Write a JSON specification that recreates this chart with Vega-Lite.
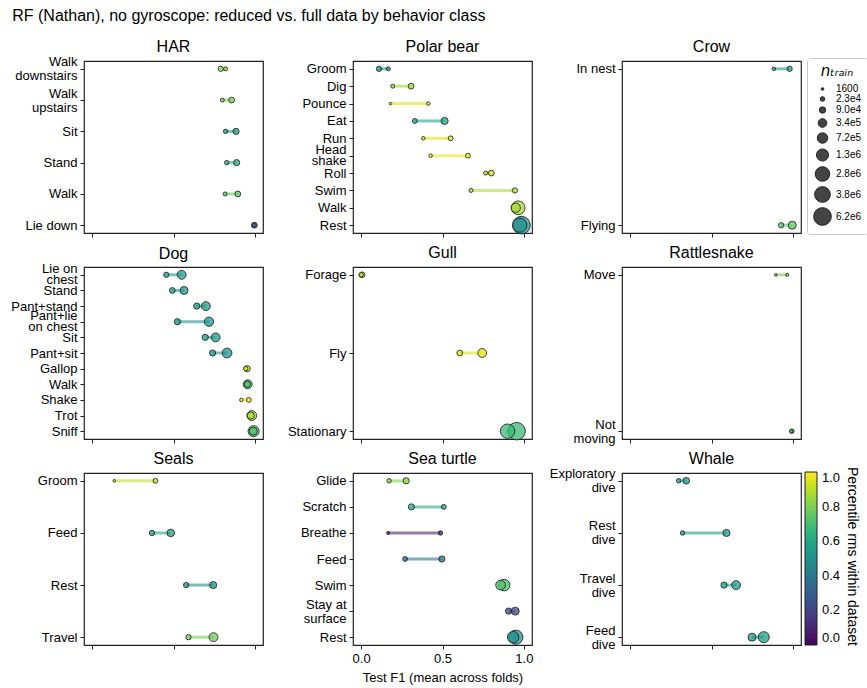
{
  "$schema": "https://vega.github.io/schema/vega-lite/v6.json",
  "background": "white",
  "padding": {"left": 10, "top": 8, "right": 5, "bottom": 5},
  "title": {"text": "RF (Nathan), no gyroscope: reduced vs. full data by behavior class", "anchor": "start", "fontSize": 16, "fontWeight": "normal", "font": "Liberation Sans", "color": "#000", "offset": 14, "dx": 2},
  "data": {"values": [
    {"ds": "HAR", "cls": "Walk\ndownstairs", "r": 0.82, "f": 0.79, "nr": 12300, "nf": 44000, "pct": 0.82},
    {"ds": "HAR", "cls": "Walk\nupstairs", "r": 0.80, "f": 0.857, "nr": 12300, "nf": 62000, "pct": 0.80},
    {"ds": "HAR", "cls": "Sit", "r": 0.82, "f": 0.884, "nr": 19700, "nf": 84900, "pct": 0.55},
    {"ds": "HAR", "cls": "Stand", "r": 0.827, "f": 0.888, "nr": 19700, "nf": 84900, "pct": 0.62},
    {"ds": "HAR", "cls": "Walk", "r": 0.817, "f": 0.895, "nr": 12300, "nf": 62000, "pct": 0.75},
    {"ds": "HAR", "cls": "Lie down", "r": 0.995, "f": 0.997, "nr": 19700, "nf": 62000, "pct": 0.32},
    {"ds": "Polar bear", "cls": "Groom", "r": 0.167, "f": 0.11, "nr": 12300, "nf": 44000, "pct": 0.5},
    {"ds": "Polar bear", "cls": "Dig", "r": 0.194, "f": 0.307, "nr": 12300, "nf": 62000, "pct": 0.85},
    {"ds": "Polar bear", "cls": "Pounce", "r": 0.18, "f": 0.413, "nr": 1637, "nf": 7100, "pct": 0.95},
    {"ds": "Polar bear", "cls": "Eat", "r": 0.33, "f": 0.513, "nr": 30100, "nf": 149000, "pct": 0.6},
    {"ds": "Polar bear", "cls": "Run", "r": 0.382, "f": 0.55, "nr": 7100, "nf": 30100, "pct": 0.95},
    {"ds": "Polar bear", "cls": "Head\nshake", "r": 0.427, "f": 0.656, "nr": 7100, "nf": 30100, "pct": 0.97},
    {"ds": "Polar bear", "cls": "Roll", "r": 0.765, "f": 0.80, "nr": 12300, "nf": 62000, "pct": 0.92},
    {"ds": "Polar bear", "cls": "Swim", "r": 0.675, "f": 0.945, "nr": 12300, "nf": 44000, "pct": 0.88},
    {"ds": "Polar bear", "cls": "Walk", "r": 0.95, "f": 0.965, "nr": 456000, "nf": 2200000, "pct": 0.87},
    {"ds": "Polar bear", "cls": "Rest", "r": 0.975, "f": 0.985, "nr": 2500000, "nf": 6200000, "pct": 0.5},
    {"ds": "Crow", "cls": "In nest", "r": 0.883, "f": 0.98, "nr": 7100, "nf": 44000, "pct": 0.55},
    {"ds": "Crow", "cls": "Flying", "r": 0.928, "f": 0.996, "nr": 44000, "nf": 242000, "pct": 0.75},
    {"ds": "Dog", "cls": "Lie on\nchest", "r": 0.456, "f": 0.55, "nr": 44000, "nf": 373000, "pct": 0.55},
    {"ds": "Dog", "cls": "Stand", "r": 0.493, "f": 0.565, "nr": 62000, "nf": 242000, "pct": 0.55},
    {"ds": "Dog", "cls": "Pant+stand", "r": 0.643, "f": 0.699, "nr": 84900, "nf": 373000, "pct": 0.55},
    {"ds": "Dog", "cls": "Pant+lie\non chest", "r": 0.524, "f": 0.718, "nr": 84900, "nf": 456000, "pct": 0.52},
    {"ds": "Dog", "cls": "Sit", "r": 0.695, "f": 0.759, "nr": 84900, "nf": 373000, "pct": 0.55},
    {"ds": "Dog", "cls": "Pant+sit", "r": 0.74, "f": 0.829, "nr": 84900, "nf": 551000, "pct": 0.5},
    {"ds": "Dog", "cls": "Gallop", "r": 0.944, "f": 0.953, "nr": 19700, "nf": 84900, "pct": 0.95},
    {"ds": "Dog", "cls": "Walk", "r": 0.954, "f": 0.956, "nr": 84900, "nf": 373000, "pct": 0.72},
    {"ds": "Dog", "cls": "Shake", "r": 0.917, "f": 0.963, "nr": 7100, "nf": 30100, "pct": 0.97},
    {"ds": "Dog", "cls": "Trot", "r": 0.975, "f": 0.981, "nr": 149000, "nf": 551000, "pct": 0.88},
    {"ds": "Dog", "cls": "Sniff", "r": 0.99, "f": 0.992, "nr": 242000, "nf": 928000, "pct": 0.72},
    {"ds": "Gull", "cls": "Forage", "r": 0.0, "f": 0.005, "nr": 19700, "nf": 62000, "pct": 0.92},
    {"ds": "Gull", "cls": "Fly", "r": 0.606, "f": 0.744, "nr": 62000, "nf": 373000, "pct": 0.95},
    {"ds": "Gull", "cls": "Stationary", "r": 0.90, "f": 0.955, "nr": 2700000, "nf": 6000000, "pct": 0.68},
    {"ds": "Rattlesnake", "cls": "Move", "r": 0.895, "f": 0.965, "nr": 1637, "nf": 3700, "pct": 0.8},
    {"ds": "Rattlesnake", "cls": "Not\nmoving", "r": 0.99, "f": 0.994, "nr": 7100, "nf": 19700, "pct": 0.7},
    {"ds": "Seals", "cls": "Groom", "r": 0.136, "f": 0.389, "nr": 1637, "nf": 30100, "pct": 0.9},
    {"ds": "Seals", "cls": "Feed", "r": 0.368, "f": 0.483, "nr": 44000, "nf": 190000, "pct": 0.58},
    {"ds": "Seals", "cls": "Rest", "r": 0.578, "f": 0.744, "nr": 44000, "nf": 149000, "pct": 0.5},
    {"ds": "Seals", "cls": "Travel", "r": 0.592, "f": 0.746, "nr": 44000, "nf": 373000, "pct": 0.78},
    {"ds": "Sea turtle", "cls": "Glide", "r": 0.172, "f": 0.277, "nr": 19700, "nf": 84900, "pct": 0.82},
    {"ds": "Sea turtle", "cls": "Scratch", "r": 0.508, "f": 0.309, "nr": 30100, "nf": 84900, "pct": 0.62},
    {"ds": "Sea turtle", "cls": "Breathe", "r": 0.166, "f": 0.488, "nr": 3700, "nf": 19700, "pct": 0.1},
    {"ds": "Sea turtle", "cls": "Feed", "r": 0.27, "f": 0.496, "nr": 30100, "nf": 84900, "pct": 0.38},
    {"ds": "Sea turtle", "cls": "Swim", "r": 0.857, "f": 0.879, "nr": 551000, "nf": 1090000, "pct": 0.72},
    {"ds": "Sea turtle", "cls": "Stay at\nsurface", "r": 0.906, "f": 0.947, "nr": 84900, "nf": 242000, "pct": 0.22},
    {"ds": "Sea turtle", "cls": "Rest", "r": 0.934, "f": 0.951, "nr": 1090000, "nf": 2520000, "pct": 0.5},
    {"ds": "Whale", "cls": "Exploratory\ndive", "r": 0.298, "f": 0.345, "nr": 19700, "nf": 113000, "pct": 0.55},
    {"ds": "Whale", "cls": "Rest\ndive", "r": 0.322, "f": 0.592, "nr": 19700, "nf": 149000, "pct": 0.55},
    {"ds": "Whale", "cls": "Travel\ndive", "r": 0.577, "f": 0.651, "nr": 84900, "nf": 373000, "pct": 0.55},
    {"ds": "Whale", "cls": "Feed\ndive", "r": 0.749, "f": 0.821, "nr": 242000, "nf": 928000, "pct": 0.55}
  ]},
  "columns": 3,
  "spacing": {"row": 34, "column": 90},
  "bounds": "flush",
  "concat": [
    {"title": {"text": "HAR", "offset": 1}, "width": 179, "height": 172,
     "transform": [{"filter": "datum.ds === 'HAR'"}],
     "encoding": {"y": {"field": "cls", "type": "nominal", "sort": null, "scale": {"type": "point", "padding": 0.25}, "axis": {"title": null, "labelExpr": "split(datum.label, '\\n')"}}},
     "layer": [
       {"mark": {"type": "rule", "strokeWidth": 3, "opacity": 0.6},
        "encoding": {"x": {"field": "r", "type": "quantitative", "scale": {"domain": [-0.05, 1.05], "nice": false, "zero": false}, "axis": {"values": [0, 0.5, 1], "labels": false, "title": null}}, "x2": {"field": "f"},
          "stroke": {"field": "pct", "type": "quantitative", "scale": {"scheme": "viridis", "domain": [0, 1.0000001]}, "legend": null}}},
       {"mark": {"type": "circle", "fillOpacity": 0.75, "stroke": "#222", "strokeWidth": 1, "strokeOpacity": 0.85},
        "encoding": {"x": {"field": "f", "type": "quantitative", "axis": {"values": [0, 0.5, 1], "labels": false, "title": null}},
          "color": {"field": "pct", "type": "quantitative", "scale": {"scheme": "viridis", "domain": [0, 1]},
            "legend": {"type": "gradient", "title": "Percentile rms within dataset", "orient": "none", "legendX": 721, "legendY": 411, "direction": "vertical", "gradientLength": 173, "gradientThickness": 12, "titleOrient": "right", "titleAngle": 90, "titleFontSize": 14, "titleFontWeight": "normal", "titleFont": "Liberation Sans", "titleColor": "#000", "titleAnchor": "start", "titleBaseline": "bottom", "labelFontSize": 13, "labelFont": "Liberation Sans", "labelColor": "#000", "values": [0, 0.2, 0.4, 0.6, 0.8, 1], "format": ".1f", "labelOverlap": false, "gradientStrokeColor": "#222", "gradientStrokeWidth": 1, "padding": 0, "labelOffset": 5}},
          "size": {"field": "nf", "type": "quantitative", "scale": {"type": "sqrt", "domain": [0, 6200000], "range": [2, 314]},
            "legend": {"title": "nₜᵣₐᵢₙ", "values": [1600, 23000, 90000, 340000, 720000, 1300000, 2800000, 3800000, 6200000], "labelExpr": "datum.value < 10000 ? format(datum.value, 'd') : replace(format(datum.value, '.1e'), '+', '')", "orient": "none", "legendX": 723, "legendY": -3, "strokeColor": "#ccc", "fillColor": "white", "padding": 6, "cornerRadius": 3, "symbolFillColor": "#444", "symbolStrokeColor": "#222", "symbolStrokeWidth": 1, "symbolOpacity": 1, "labelFontSize": 10, "labelFont": "Liberation Sans", "labelColor": "#000", "titleFontSize": 15, "titleFont": "DejaVu Sans", "titleFontStyle": "italic", "titleFontWeight": "normal", "titleColor": "#000", "titleAnchor": "middle", "gridAlign": "each", "rowPadding": 0, "symbolType": "circle", "labelOffset": 4,
              "encode": {"symbols": {"update": {"fill": {"value": "#444"}, "fillOpacity": {"value": 1}, "stroke": {"value": "#222"}, "opacity": {"value": 1}}}}}}}},
       {"mark": {"type": "circle", "fillOpacity": 0.75, "stroke": "#222", "strokeWidth": 1, "strokeOpacity": 0.85},
        "encoding": {"x": {"field": "r", "type": "quantitative", "axis": {"values": [0, 0.5, 1], "labels": false, "title": null}},
          "color": {"field": "pct", "type": "quantitative"},
          "size": {"field": "nr", "type": "quantitative"}}}
     ]},
    {"title": "Polar bear", "width": 179, "height": 172,
     "transform": [{"filter": "datum.ds === 'Polar bear'"}],
     "encoding": {"y": {"field": "cls", "type": "nominal", "sort": null, "scale": {"type": "point", "padding": 0.45}, "axis": {"title": null, "labelExpr": "split(datum.label, '\\n')", "labelLineHeight": 11}}},
     "layer": [
       {"mark": {"type": "rule", "strokeWidth": 3, "opacity": 0.6},
        "encoding": {"x": {"field": "r", "type": "quantitative", "scale": {"domain": [-0.05, 1.05], "nice": false, "zero": false}, "axis": {"values": [0, 0.5, 1], "labels": false, "title": null}}, "x2": {"field": "f"}, "stroke": {"field": "pct", "type": "quantitative", "legend": null}}},
       {"mark": {"type": "circle", "fillOpacity": 0.75, "stroke": "#222", "strokeWidth": 1, "strokeOpacity": 0.85},
        "encoding": {"x": {"field": "f", "type": "quantitative", "axis": {"values": [0, 0.5, 1], "labels": false, "title": null}}, "color": {"field": "pct", "type": "quantitative"}, "size": {"field": "nf", "type": "quantitative"}}},
       {"mark": {"type": "circle", "fillOpacity": 0.75, "stroke": "#222", "strokeWidth": 1, "strokeOpacity": 0.85},
        "encoding": {"x": {"field": "r", "type": "quantitative", "axis": {"values": [0, 0.5, 1], "labels": false, "title": null}}, "color": {"field": "pct", "type": "quantitative"}, "size": {"field": "nr", "type": "quantitative"}}}
     ]},
    {"title": "Crow", "width": 179, "height": 172,
     "transform": [{"filter": "datum.ds === 'Crow'"}],
     "encoding": {"y": {"field": "cls", "type": "nominal", "sort": null, "scale": {"type": "point", "padding": 0.05}, "axis": {"title": null, "labelExpr": "split(datum.label, '\\n')"}}},
     "layer": [
       {"mark": {"type": "rule", "strokeWidth": 3, "opacity": 0.6},
        "encoding": {"x": {"field": "r", "type": "quantitative", "scale": {"domain": [-0.05, 1.05], "nice": false, "zero": false}, "axis": {"values": [0, 0.5, 1], "labels": false, "title": null}}, "x2": {"field": "f"}, "stroke": {"field": "pct", "type": "quantitative", "legend": null}}},
       {"mark": {"type": "circle", "fillOpacity": 0.75, "stroke": "#222", "strokeWidth": 1, "strokeOpacity": 0.85},
        "encoding": {"x": {"field": "f", "type": "quantitative", "axis": {"values": [0, 0.5, 1], "labels": false, "title": null}}, "color": {"field": "pct", "type": "quantitative"}, "size": {"field": "nf", "type": "quantitative"}}},
       {"mark": {"type": "circle", "fillOpacity": 0.75, "stroke": "#222", "strokeWidth": 1, "strokeOpacity": 0.85},
        "encoding": {"x": {"field": "r", "type": "quantitative", "axis": {"values": [0, 0.5, 1], "labels": false, "title": null}}, "color": {"field": "pct", "type": "quantitative"}, "size": {"field": "nr", "type": "quantitative"}}}
     ]},
    {"title": {"text": "Dog", "offset": 1}, "width": 179, "height": 172,
     "transform": [{"filter": "datum.ds === 'Dog'"}],
     "encoding": {"y": {"field": "cls", "type": "nominal", "sort": null, "scale": {"type": "point", "padding": 0.5}, "axis": {"title": null, "labelExpr": "split(datum.label, '\\n')", "labelLineHeight": 11}}},
     "layer": [
       {"mark": {"type": "rule", "strokeWidth": 3, "opacity": 0.6},
        "encoding": {"x": {"field": "r", "type": "quantitative", "scale": {"domain": [-0.05, 1.05], "nice": false, "zero": false}, "axis": {"values": [0, 0.5, 1], "labels": false, "title": null}}, "x2": {"field": "f"}, "stroke": {"field": "pct", "type": "quantitative", "legend": null}}},
       {"mark": {"type": "circle", "fillOpacity": 0.75, "stroke": "#222", "strokeWidth": 1, "strokeOpacity": 0.85},
        "encoding": {"x": {"field": "f", "type": "quantitative", "axis": {"values": [0, 0.5, 1], "labels": false, "title": null}}, "color": {"field": "pct", "type": "quantitative"}, "size": {"field": "nf", "type": "quantitative"}}},
       {"mark": {"type": "circle", "fillOpacity": 0.75, "stroke": "#222", "strokeWidth": 1, "strokeOpacity": 0.85},
        "encoding": {"x": {"field": "r", "type": "quantitative", "axis": {"values": [0, 0.5, 1], "labels": false, "title": null}}, "color": {"field": "pct", "type": "quantitative"}, "size": {"field": "nr", "type": "quantitative"}}}
     ]},
    {"title": "Gull", "width": 179, "height": 172,
     "transform": [{"filter": "datum.ds === 'Gull'"}],
     "encoding": {"y": {"field": "cls", "type": "nominal", "sort": null, "scale": {"type": "point", "padding": 0.1}, "axis": {"title": null, "labelExpr": "split(datum.label, '\\n')"}}},
     "layer": [
       {"mark": {"type": "rule", "strokeWidth": 3, "opacity": 0.6},
        "encoding": {"x": {"field": "r", "type": "quantitative", "scale": {"domain": [-0.05, 1.05], "nice": false, "zero": false}, "axis": {"values": [0, 0.5, 1], "labels": false, "title": null}}, "x2": {"field": "f"}, "stroke": {"field": "pct", "type": "quantitative", "legend": null}}},
       {"mark": {"type": "circle", "fillOpacity": 0.75, "stroke": "#222", "strokeWidth": 1, "strokeOpacity": 0.85},
        "encoding": {"x": {"field": "f", "type": "quantitative", "axis": {"values": [0, 0.5, 1], "labels": false, "title": null}}, "color": {"field": "pct", "type": "quantitative"}, "size": {"field": "nf", "type": "quantitative"}}},
       {"mark": {"type": "circle", "fillOpacity": 0.75, "stroke": "#222", "strokeWidth": 1, "strokeOpacity": 0.85},
        "encoding": {"x": {"field": "r", "type": "quantitative", "axis": {"values": [0, 0.5, 1], "labels": false, "title": null}}, "color": {"field": "pct", "type": "quantitative"}, "size": {"field": "nr", "type": "quantitative"}}}
     ]},
    {"title": "Rattlesnake", "width": 179, "height": 172,
     "transform": [{"filter": "datum.ds === 'Rattlesnake'"}],
     "encoding": {"y": {"field": "cls", "type": "nominal", "sort": null, "scale": {"type": "point", "padding": 0.05}, "axis": {"title": null, "labelExpr": "split(datum.label, '\\n')"}}},
     "layer": [
       {"mark": {"type": "rule", "strokeWidth": 3, "opacity": 0.6},
        "encoding": {"x": {"field": "r", "type": "quantitative", "scale": {"domain": [-0.05, 1.05], "nice": false, "zero": false}, "axis": {"values": [0, 0.5, 1], "labels": false, "title": null}}, "x2": {"field": "f"}, "stroke": {"field": "pct", "type": "quantitative", "legend": null}}},
       {"mark": {"type": "circle", "fillOpacity": 0.75, "stroke": "#222", "strokeWidth": 1, "strokeOpacity": 0.85},
        "encoding": {"x": {"field": "f", "type": "quantitative", "axis": {"values": [0, 0.5, 1], "labels": false, "title": null}}, "color": {"field": "pct", "type": "quantitative"}, "size": {"field": "nf", "type": "quantitative"}}},
       {"mark": {"type": "circle", "fillOpacity": 0.75, "stroke": "#222", "strokeWidth": 1, "strokeOpacity": 0.85},
        "encoding": {"x": {"field": "r", "type": "quantitative", "axis": {"values": [0, 0.5, 1], "labels": false, "title": null}}, "color": {"field": "pct", "type": "quantitative"}, "size": {"field": "nr", "type": "quantitative"}}}
     ]},
    {"title": "Seals", "width": 179, "height": 172,
     "transform": [{"filter": "datum.ds === 'Seals'"}],
     "encoding": {"y": {"field": "cls", "type": "nominal", "sort": null, "scale": {"type": "point", "padding": 0.15}, "axis": {"title": null, "labelExpr": "split(datum.label, '\\n')"}}},
     "layer": [
       {"mark": {"type": "rule", "strokeWidth": 3, "opacity": 0.6},
        "encoding": {"x": {"field": "r", "type": "quantitative", "scale": {"domain": [-0.05, 1.05], "nice": false, "zero": false}, "axis": {"values": [0, 0.5, 1], "labels": false, "title": null}}, "x2": {"field": "f"}, "stroke": {"field": "pct", "type": "quantitative", "legend": null}}},
       {"mark": {"type": "circle", "fillOpacity": 0.75, "stroke": "#222", "strokeWidth": 1, "strokeOpacity": 0.85},
        "encoding": {"x": {"field": "f", "type": "quantitative", "axis": {"values": [0, 0.5, 1], "labels": false, "title": null}}, "color": {"field": "pct", "type": "quantitative"}, "size": {"field": "nf", "type": "quantitative"}}},
       {"mark": {"type": "circle", "fillOpacity": 0.75, "stroke": "#222", "strokeWidth": 1, "strokeOpacity": 0.85},
        "encoding": {"x": {"field": "r", "type": "quantitative", "axis": {"values": [0, 0.5, 1], "labels": false, "title": null}}, "color": {"field": "pct", "type": "quantitative"}, "size": {"field": "nr", "type": "quantitative"}}}
     ]},
    {"title": "Sea turtle", "width": 179, "height": 172,
     "transform": [{"filter": "datum.ds === 'Sea turtle'"}],
     "encoding": {"y": {"field": "cls", "type": "nominal", "sort": null, "scale": {"type": "point", "padding": 0.3}, "axis": {"title": null, "labelExpr": "split(datum.label, '\\n')"}}},
     "layer": [
       {"mark": {"type": "rule", "strokeWidth": 3, "opacity": 0.6},
        "encoding": {"x": {"field": "r", "type": "quantitative", "scale": {"domain": [-0.05, 1.05], "nice": false, "zero": false}, "axis": {"values": [0, 0.5, 1], "format": ".1f", "title": "Test F1 (mean across folds)"}}, "x2": {"field": "f"}, "stroke": {"field": "pct", "type": "quantitative", "legend": null}}},
       {"mark": {"type": "circle", "fillOpacity": 0.75, "stroke": "#222", "strokeWidth": 1, "strokeOpacity": 0.85},
        "encoding": {"x": {"field": "f", "type": "quantitative", "axis": {"values": [0, 0.5, 1], "format": ".1f", "title": "Test F1 (mean across folds)"}}, "color": {"field": "pct", "type": "quantitative"}, "size": {"field": "nf", "type": "quantitative"}}},
       {"mark": {"type": "circle", "fillOpacity": 0.75, "stroke": "#222", "strokeWidth": 1, "strokeOpacity": 0.85},
        "encoding": {"x": {"field": "r", "type": "quantitative", "axis": {"values": [0, 0.5, 1], "format": ".1f", "title": "Test F1 (mean across folds)"}}, "color": {"field": "pct", "type": "quantitative"}, "size": {"field": "nr", "type": "quantitative"}}}
     ]},
    {"title": {"text": "Whale", "offset": 1}, "width": 179, "height": 172,
     "transform": [{"filter": "datum.ds === 'Whale'"}],
     "encoding": {"y": {"field": "cls", "type": "nominal", "sort": null, "scale": {"type": "point", "padding": 0.15}, "axis": {"title": null, "labelExpr": "split(datum.label, '\\n')"}}},
     "layer": [
       {"mark": {"type": "rule", "strokeWidth": 3, "opacity": 0.6},
        "encoding": {"x": {"field": "r", "type": "quantitative", "scale": {"domain": [-0.05, 1.05], "nice": false, "zero": false}, "axis": {"values": [0, 0.5, 1], "labels": false, "title": null}}, "x2": {"field": "f"}, "stroke": {"field": "pct", "type": "quantitative", "legend": null}}},
       {"mark": {"type": "circle", "fillOpacity": 0.75, "stroke": "#222", "strokeWidth": 1, "strokeOpacity": 0.85},
        "encoding": {"x": {"field": "f", "type": "quantitative", "axis": {"values": [0, 0.5, 1], "labels": false, "title": null}}, "color": {"field": "pct", "type": "quantitative"}, "size": {"field": "nf", "type": "quantitative"}}},
       {"mark": {"type": "circle", "fillOpacity": 0.75, "stroke": "#222", "strokeWidth": 1, "strokeOpacity": 0.85},
        "encoding": {"x": {"field": "r", "type": "quantitative", "axis": {"values": [0, 0.5, 1], "labels": false, "title": null}}, "color": {"field": "pct", "type": "quantitative"}, "size": {"field": "nr", "type": "quantitative"}}}
     ]}
  ],
  "config": {
    "font": "Liberation Sans",
    "view": {"stroke": "#222", "strokeWidth": 1.2},
    "axis": {"domain": false, "grid": false, "tickColor": "#222", "tickSize": 4, "tickWidth": 1, "labelFontSize": 13, "labelFont": "Liberation Sans", "labelColor": "#000", "labelPadding": 3, "titleFont": "Liberation Sans", "titleFontSize": 13, "titleFontWeight": "normal", "titleColor": "#000", "labelLineHeight": 14, "labelOverlap": false, "titlePadding": 6},
    "axisY": {"labelBaseline": {"condition": {"test": "indexof(datum.value, '\\n') >= 0", "value": "line-bottom"}, "value": "middle"}},
    "title": {"fontSize": 16, "fontWeight": "normal", "font": "Liberation Sans", "color": "#000", "offset": 6}
  }
}
